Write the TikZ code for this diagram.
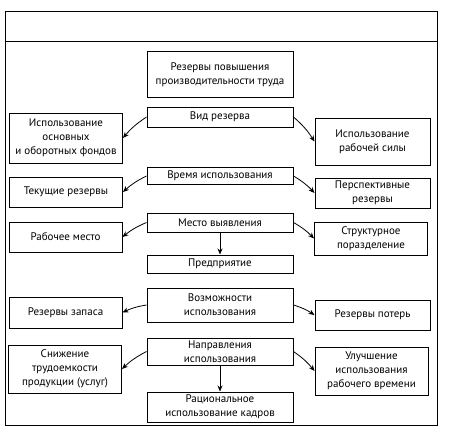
\documentclass[tikz,border=0pt]{standalone}
\usepackage{fontspec}
\setmainfont{PT Sans}
\usepackage{tikz}
\usetikzlibrary{
    arrows.meta,
    positioning,
}
\tikzset{
    rbox/.style={draw, line width=1pt, align=center, inner sep=1pt, font=\fontsize{11}{14}\selectfont},
    cbox/.style={rbox, minimum width=146pt},
    sbox/.style={rbox, minimum width=113pt},
    rarr/.style={-{Stealth[length=6pt, width=5pt]}, line width=0.8pt},
}
\begin{document}
\begin{tikzpicture}[x=1pt, y=-1pt]
        \useasboundingbox (0, 0) rectangle (462, 433);
        % frame
        \draw[line width=1pt] (5, 12) rectangle (437, 425);
        \draw[line width=1pt] (5, 42) -- (437, 42);
        % centre column
        \node[cbox, minimum height=45pt] (top) at (220, 74.5) {Резервы повышения\\производительности труда};
        \node[cbox, minimum height=20pt] (vid) at (220, 117) {Вид резерва};
        \node[cbox, minimum height=17pt] (vrem) at (220, 176) {Время использования};
        \node[cbox, minimum height=19pt] (mesto) at (220, 222.5) {Место выявления};
        \node[cbox, minimum height=18pt] (pred) at (220, 264) {Предприятие};
        \node[cbox, minimum height=34pt] (vozm) at (220, 305) {Возможности\\использования};
        \node[cbox, minimum height=27pt] (napr) at (220, 351.5) {Направления\\использования};
        \node[cbox, minimum height=30pt] (rac) at (220, 407) {Рациональное\\использование кадров};
        % left column
        \node[sbox, minimum height=50pt] (fond) at (66, 138) {Использование\\основных\\и оборотных фондов};
        \node[sbox, minimum height=30pt] (tek) at (66, 192) {Текущие резервы};
        \node[sbox, minimum height=30pt] (rabm) at (65.5, 237) {Рабочее место};
        \node[sbox, minimum height=31pt] (zap) at (65.5, 312.5) {Резервы запаса};
        \node[sbox, minimum height=48pt] (trud) at (65, 369) {Снижение\\трудоемкости\\продукции (услуг)};
        % right column
        \node[sbox, minimum width=115pt, minimum height=47pt] (sila) at (372.5, 141.5) {Использование\\рабочей силы};
        \node[sbox, minimum width=115pt, minimum height=30pt] (persp) at (372.5, 193) {Перспективные\\резервы};
        \node[sbox, minimum height=33pt] (struk) at (371, 238.5) {Структурное\\поразделение};
        \node[sbox, minimum width=115pt, minimum height=30pt] (pot) at (372.5, 315) {Резервы потерь};
        \node[sbox, minimum height=48pt] (vrm) at (371.5, 371) {Улучшение\\использования\\рабочего времени};
        % arrows
        \foreach \c/\l/\r in {vid/fond/sila, vrem/tek/persp, mesto/rabm/struk, vozm/zap/pot, napr/trud/vrm} {
            \draw[rarr] (\c.west) to[bend right=8] (\l.east);
            \draw[rarr] (\c.east) to[bend left=8] (\r.west);
        }
        \draw[rarr] (mesto) -- (pred);
        \draw[rarr] (napr) -- (rac);
    \end{tikzpicture}
\end{document}
